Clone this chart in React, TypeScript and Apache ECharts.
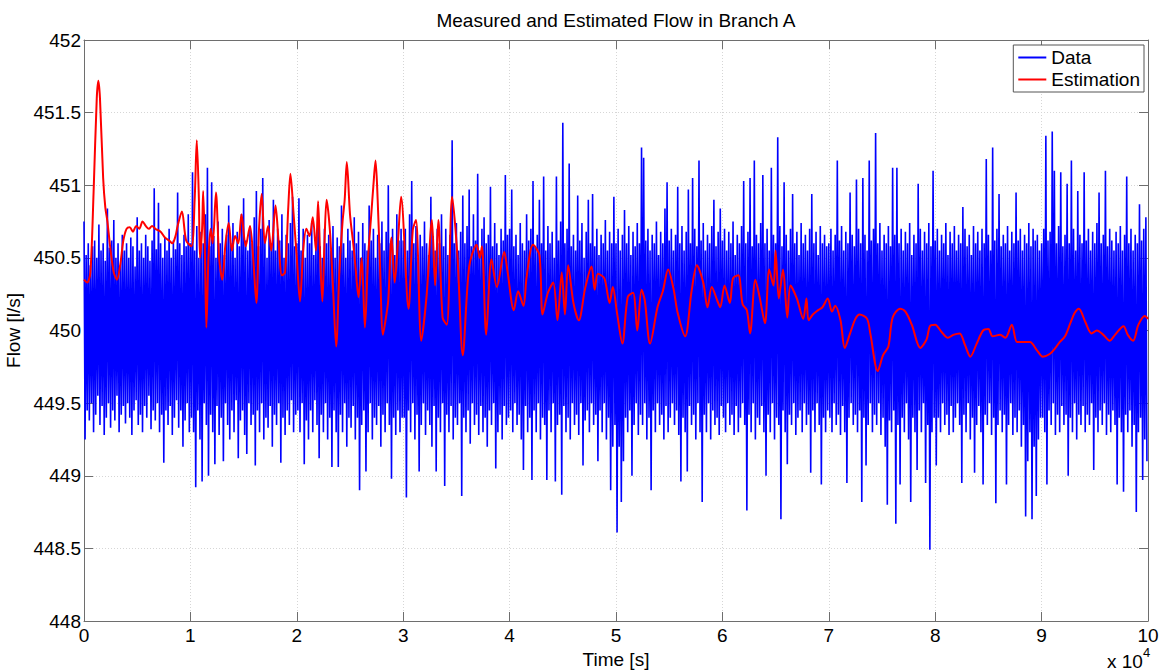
import React, { useEffect, useRef } from "react";
import * as echarts from "echarts";

const FONT = "'Liberation Sans', Arial, Helvetica, sans-serif";

// Measured flow: alternating upper / lower samples, one pair every dataStepSec seconds
const dataStepSec = 200;
const dataUpper = [
  // 0 - 1e4 s
  450.75, 450.52, 450.6, 450.45, 450.58, 450.62, 450.5, 450.73, 450.55, 450.6, 450.48, 450.84, 450.57, 450.62, 450.76, 450.5, 450.6, 450.45, 450.66, 450.55,
  450.6, 450.5, 450.64, 450.58, 450.44, 450.78, 450.55, 450.6, 450.5, 450.66, 450.58, 450.48, 450.62, 450.98, 450.56, 450.88, 450.6, 450.5, 450.64, 450.55,
  450.7, 450.5, 450.62, 450.56, 450.95, 450.6, 450.52, 450.66, 450.58, 450.8,
  // 1e4 - 2e4 s
  450.6, 451.09, 450.55, 450.72, 450.5, 450.68, 450.6, 450.8, 451.12, 450.58, 451.02, 450.65, 450.5, 450.75, 450.6, 450.7, 450.52, 450.66, 450.86, 450.6,
  450.74, 450.5, 450.68, 450.58, 450.8, 450.91, 450.62, 450.55, 450.72, 450.6, 450.78, 450.96, 450.58, 450.7, 451.05, 450.62, 450.5, 450.76, 450.6, 450.9,
  450.55, 450.7, 450.62, 450.8, 450.5, 450.66, 450.6, 450.74, 450.92, 450.58,
  // 2e4 - 3e4 s
  450.6, 450.91, 450.55, 450.7, 450.5, 450.66, 450.6, 450.74, 450.52, 450.62, 450.8, 450.58, 450.5, 450.7, 450.6, 450.66, 450.55, 450.72, 450.5, 450.64,
  450.58, 450.86, 450.6, 450.5, 450.7, 450.62, 450.55, 450.78, 450.6, 450.68, 450.5, 450.74, 450.6, 450.55, 450.86, 450.62, 450.7, 450.5, 450.66, 450.6,
  450.75, 450.55, 450.68, 451.0, 450.6, 450.7, 450.52, 450.8, 450.62, 450.7,
  // 3e4 - 4e4 s
  450.62, 450.7, 450.55, 450.8, 451.03, 450.6, 450.72, 450.5, 450.66, 450.58, 450.75, 450.6, 450.52, 450.92, 450.65, 450.55, 450.7, 450.6, 450.8, 450.58,
  450.7, 450.52, 450.66, 451.31, 450.6, 450.74, 450.55, 450.68, 450.93, 450.6, 450.72, 450.97, 450.58, 450.8, 450.62, 451.08, 450.55, 450.7, 450.78, 450.6,
  450.66, 450.99, 450.58, 450.74, 450.6, 450.52, 450.7, 450.62, 451.07, 450.66,
  // 4e4 - 5e4 s
  450.7, 450.97, 450.58, 450.66, 450.52, 450.74, 450.6, 450.55, 450.8, 450.62, 450.7, 451.03, 450.58, 450.66, 450.9, 450.6, 451.06, 450.55, 450.72, 450.6,
  450.68, 450.5, 451.06, 450.62, 450.75, 451.43, 450.6, 450.7, 451.15, 450.58, 450.66, 450.55, 450.93, 450.62, 450.74, 450.5, 450.68, 450.9, 450.6, 450.94,
  450.58, 450.7, 450.52, 450.66, 450.6, 450.76, 450.55, 450.68, 450.6, 450.92,
  // 5e4 - 6e4 s
  450.6, 450.7, 450.55, 450.66, 450.83, 450.6, 450.72, 450.52, 450.68, 450.58, 450.74, 450.6, 451.26, 451.19, 450.62, 450.7, 450.55, 450.66, 450.6, 450.75,
  450.52, 450.68, 450.6, 450.84, 451.02, 450.62, 450.7, 450.55, 450.66, 450.99, 450.6, 450.72, 450.55, 450.68, 450.97, 450.6, 451.05, 450.7, 450.58, 451.17,
  450.62, 450.74, 450.55, 450.66, 450.6, 450.72, 450.9, 450.58, 450.68, 450.84,
  // 6e4 - 7e4 s
  450.62, 450.7, 450.55, 450.68, 450.6, 450.75, 450.52, 450.66, 450.6, 450.72, 451.03, 450.6, 450.68, 451.05, 450.58, 451.17, 450.66, 450.6, 450.74, 451.07,
  450.6, 450.7, 450.55, 451.12, 450.66, 450.6, 451.33, 450.72, 450.58, 451.02, 450.66, 450.55, 450.7, 450.94, 450.6, 450.68, 450.52, 450.74, 450.6, 450.66,
  450.55, 450.7, 450.94, 450.6, 450.68, 450.52, 450.72, 450.6, 450.66, 450.58,
  // 7e4 - 8e4 s
  450.6, 450.7, 450.55, 450.66, 451.17, 450.62, 450.72, 450.55, 450.68, 450.6, 450.95, 450.66, 450.58, 451.04, 450.7, 450.6, 451.05, 450.66, 450.55, 451.17,
  450.62, 450.7, 451.36, 450.6, 450.74, 450.55, 450.66, 450.6, 450.72, 450.58, 451.12, 450.66, 451.12, 450.6, 450.7, 450.55, 450.68, 450.6, 450.74, 450.52,
  450.66, 450.6, 451.01, 450.7, 450.55, 450.68, 450.6, 450.74, 450.58, 451.1,
  // 8e4 - 9e4 s
  450.62, 450.7, 450.55, 450.66, 450.6, 450.74, 450.52, 450.68, 450.6, 450.72, 450.55, 450.66, 450.6, 450.85, 450.7, 450.58, 450.66, 450.52, 450.72, 450.6,
  450.68, 450.55, 450.7, 450.6, 451.18, 450.66, 450.55, 451.26, 450.62, 450.7, 450.94, 450.58, 450.66, 450.6, 450.72, 450.55, 450.68, 450.6, 450.95, 450.62,
  450.7, 450.55, 450.66, 450.6, 450.74, 450.58, 450.7, 450.62, 450.66, 450.55,
  // 9e4 - 10e4 s
  450.6, 450.7, 451.34, 450.62, 450.68, 451.37, 451.1, 450.6, 450.72, 451.09, 450.58, 450.66, 451.01, 450.6, 451.17, 450.7, 450.55, 450.96, 450.66, 450.6,
  451.09, 450.62, 450.7, 450.55, 450.68, 450.6, 450.74, 450.95, 450.6, 450.66, 451.1, 450.58, 450.7, 450.62, 450.55, 450.68, 450.6, 450.72, 450.55, 450.66,
  451.06, 450.6, 450.7, 450.55, 450.66, 450.6, 450.87, 450.62, 450.7, 450.78,
];
const dataLower = [
  // 0 - 1e4 s
  449.25, 449.45, 449.38, 449.5, 449.3, 449.42, 449.55, 449.35, 449.48, 449.28, 449.4, 449.5, 449.33, 449.45, 449.38, 449.55, 449.3, 449.42, 449.48, 449.36,
  449.5, 449.4, 449.28, 449.45, 449.52, 449.35, 449.42, 449.3, 449.48, 449.4, 449.55, 449.32, 449.45, 449.38, 449.5, 449.3, 449.42, 449.09, 449.45, 449.35,
  449.48, 449.28, 449.4, 449.52, 449.33, 449.45, 449.2, 449.38, 449.5, 449.3,
  // 1e4 - 2e4 s
  449.4, 449.3, 448.92, 449.45, 449.25, 448.96, 449.5, 449.35, 449.0, 449.42, 449.3, 449.08, 449.48, 449.28, 449.4, 449.1, 449.5, 449.35, 449.25, 449.45,
  449.3, 449.52, 449.12, 449.38, 449.45, 449.28, 449.15, 449.5, 449.35, 449.42, 449.07, 449.45, 449.3, 449.5, 449.25, 449.4, 449.33, 449.48, 449.2, 449.42,
  449.35, 449.5, 449.09, 449.4, 449.28, 449.45, 449.35, 449.52, 449.3, 449.42,
  // 2e4 - 3e4 s
  449.45, 449.3, 449.5, 449.08, 449.38, 449.25, 449.45, 449.3, 449.52, 449.35, 449.12, 449.42, 449.3, 449.5, 449.25, 449.4, 449.06, 449.45, 449.3, 449.06,
  449.42, 449.3, 449.5, 449.2, 449.4, 449.33, 449.48, 449.25, 449.4, 448.9, 449.35, 449.45, 449.03, 449.3, 449.5, 449.25, 449.4, 449.35, 449.48, 449.2,
  449.42, 449.3, 449.5, 449.35, 448.98, 449.4, 449.28, 449.45, 449.3, 449.4,
  // 3e4 - 4e4 s
  449.4, 448.85, 449.45, 449.3, 449.5, 449.25, 449.42, 449.03, 449.35, 449.5, 449.28, 449.45, 449.35, 449.2, 449.48, 449.03, 449.4, 449.3, 449.5, 448.93,
  449.42, 449.3, 449.48, 449.25, 449.4, 449.35, 449.5, 448.86, 449.4, 449.3, 449.45, 449.22, 449.5, 449.35, 449.42, 449.28, 449.48, 449.3, 449.4, 449.2,
  449.45, 449.35, 449.5, 449.05, 449.3, 449.42, 449.25, 449.48, 449.35, 449.4,
  // 4e4 - 5e4 s
  449.45, 449.3, 449.5, 449.35, 449.42, 449.25, 449.04, 449.48, 449.3, 449.4, 448.97, 449.45, 449.3, 449.5, 449.25, 449.4, 449.35, 448.97, 449.45, 449.3,
  449.5, 448.96, 449.35, 449.42, 448.87, 449.48, 449.3, 449.4, 449.25, 449.5, 449.35, 449.42, 449.28, 449.5, 449.07, 449.38, 449.45, 449.3, 449.5, 449.35,
  449.42, 449.1, 449.45, 449.3, 449.5, 449.25, 449.4, 448.9, 449.2, 449.35,
  // 5e4 - 6e4 s
  448.61, 449.2, 448.82, 449.1, 449.4, 449.3, 449.45, 449.0, 449.35, 449.5, 449.28, 449.42, 449.35, 449.5, 449.25, 449.4, 448.9, 449.45, 449.3, 449.5,
  449.35, 449.42, 449.25, 449.48, 449.3, 449.4, 449.5, 449.35, 449.45, 449.28, 448.96, 449.4, 449.3, 449.03, 449.48, 449.35, 449.42, 449.25, 449.5, 449.3,
  448.82, 449.42, 449.3, 449.5, 449.25, 449.45, 449.35, 449.4, 449.28, 449.48,
  // 6e4 - 7e4 s
  449.4, 449.3, 449.5, 449.35, 449.42, 449.28, 449.48, 449.3, 449.4, 449.5, 449.35, 448.76, 449.42, 449.3, 449.5, 449.25, 449.4, 449.35, 449.48, 449.3,
  449.0, 449.42, 449.3, 449.5, 449.25, 449.4, 449.35, 448.7, 449.45, 449.3, 449.08, 449.42, 449.35, 449.5, 449.28, 449.4, 449.45, 449.3, 449.5, 449.35,
  449.42, 449.02, 449.45, 449.3, 449.5, 449.35, 448.94, 449.4, 449.3, 449.45,
  // 7e4 - 8e4 s
  449.4, 449.3, 449.5, 449.35, 449.42, 449.28, 449.48, 449.3, 448.95, 449.4, 449.5, 449.35, 449.42, 449.3, 449.45, 448.82, 449.4, 449.07, 449.35, 449.5,
  449.3, 449.42, 449.35, 449.5, 449.28, 449.4, 449.2, 448.8, 449.38, 449.3, 449.45, 448.67, 449.35, 448.94, 449.4, 449.3, 449.5, 449.25, 448.82, 449.4,
  449.3, 449.04, 449.45, 449.3, 449.5, 448.95, 449.35, 448.49, 449.3, 449.4,
  // 8e4 - 9e4 s
  449.07, 449.4, 449.3, 449.5, 449.35, 449.42, 449.28, 449.48, 449.3, 449.4, 449.5, 449.35, 448.95, 449.42, 449.3, 449.5, 449.25, 449.4, 449.02, 449.35,
  449.48, 449.3, 448.94, 449.42, 449.35, 449.5, 449.28, 449.4, 448.81, 449.35, 449.45, 449.3, 449.42, 448.94, 449.35, 449.5, 449.28, 449.4, 449.3, 449.45,
  449.2, 449.35, 448.72, 449.1, 449.3, 448.7, 449.2, 448.86, 449.25, 449.4,
  // 9e4 - 10e4 s
  449.4, 449.3, 448.94, 449.45, 449.35, 449.5, 449.28, 449.42, 449.3, 449.48, 449.35, 449.42, 449.0, 449.4, 449.3, 449.5, 449.25, 449.42, 449.35, 449.48,
  449.3, 449.42, 449.35, 449.5, 449.04, 449.4, 449.3, 449.45, 449.35, 449.5, 449.28, 449.42, 449.3, 449.45, 449.35, 448.94, 449.4, 449.3, 448.89, 449.42,
  449.3, 449.45, 449.2, 449.35, 448.75, 449.3, 449.4, 448.97, 449.25, 449.1,
];

// Estimated flow
const estTimeSec = [
  0, 300, 600, 900, 1200, 1350, 1500, 1800, 2000, 2200, 2500, 2800, 3100, 3400, 3700, 4000, 4300, 4600, 4900, 5200,
  5500, 5800, 6100, 6400, 6700, 7200, 7600, 8000, 8300, 8600, 8800, 9200, 9600, 10100, 10400, 10600, 10800, 10900, 11100, 11200,
  11350, 11500, 11700, 11900, 12100, 12400, 12700, 13000, 13300, 13600, 13900, 14200, 14500, 14800, 15200, 15600, 15900, 16200, 16450, 16700,
  17000, 17300, 17600, 18000, 18300, 18600, 18900, 19200, 19400, 19700, 20000, 20300, 20600, 20900, 21200, 21500, 21800, 22000, 22200, 22400,
  22600, 22800, 23100, 23400, 23700, 24000, 24300, 24500, 24700, 25000, 25300, 25500, 25800, 26100, 26400, 26700, 27000, 27200, 27400, 27600,
  27800, 28100, 28400, 28600, 28900, 29200, 29500, 29800, 30500, 30900, 31200, 31700, 32200, 32700, 33000, 33300, 33700, 34100, 34600, 35100,
  35600, 36200, 36900, 37200, 37400, 37800, 38300, 38800, 39500, 39800, 40400, 40800, 41300, 41600, 42200, 42800, 43100, 43600, 44100, 44500,
  44900, 45200, 45500, 46000, 46500, 47100, 47700, 48000, 48300, 48900, 49400, 49700, 50100, 50600, 51100, 51600, 52000, 52400, 52700, 53200,
  53900, 54400, 54900, 55400, 55800, 56500, 57100, 57600, 58200, 58600, 59000, 59500, 59800, 60200, 60700, 61000, 61500, 61900, 62300, 62600,
  63100, 63500, 64000, 64400, 64800, 65000, 65300, 65700, 66100, 66400, 67000, 67600, 67900, 68100, 68500, 69000, 69400, 69900, 70300, 70600,
  71100, 71500, 72000, 72500, 72900, 73600, 73900, 74600, 75100, 75600, 76000, 76700, 77200, 77800, 78600, 79200, 79500, 80000, 80600, 81200,
  81700, 82300, 82800, 83300, 83900, 84500, 85000, 85400, 86100, 86600, 87200, 87700, 88300, 88900, 89600, 90100, 90800, 91300, 91700, 92200,
  92700, 93100, 93500, 94100, 94700, 95200, 95800, 96400, 96900, 97700, 98100, 98600, 99100, 99700, 100000,
];
const estValue = [
  450.35, 450.33, 450.4, 450.95, 451.6, 451.72, 451.6, 451.05, 450.85, 450.75, 450.55, 450.4, 450.35, 450.45, 450.62, 450.7, 450.71, 450.68, 450.72, 450.7,
  450.75, 450.72, 450.7, 450.72, 450.7, 450.68, 450.64, 450.62, 450.6, 450.65, 450.72, 450.82, 450.62, 450.58, 450.9, 451.31, 450.9, 450.5, 450.7, 450.96,
  450.6, 450.02, 450.5, 450.7, 450.6, 450.95, 450.5, 450.35, 450.6, 450.74, 450.55, 450.65, 450.6, 450.8, 450.58, 450.72, 450.5, 450.19, 450.7, 450.94,
  450.6, 450.72, 450.55, 450.86, 450.6, 450.38, 450.4, 450.85, 451.08, 450.8, 450.5, 450.2, 450.55, 450.7, 450.65, 450.78, 450.55, 450.89, 450.5, 450.2,
  450.6, 450.9, 450.7, 450.3, 449.89, 450.4, 450.75, 450.9, 451.16, 450.8, 450.6, 450.45, 450.23, 450.5, 450.02, 450.5, 450.8, 451.0, 451.17, 450.9,
  450.5, 449.97, 450.1, 450.21, 450.64, 450.33, 450.6, 450.92, 450.15, 450.69, 450.76, 449.93, 450.24, 450.76, 450.31, 450.76, 450.09, 450.04, 450.92, 450.51,
  449.83, 450.44, 450.59, 450.5, 450.58, 449.97, 450.49, 450.3, 450.54, 450.41, 450.14, 450.27, 450.17, 450.37, 450.59, 450.52, 450.11, 450.26, 450.33, 450.07,
  450.4, 450.11, 450.45, 450.19, 450.07, 450.29, 450.44, 450.28, 450.39, 450.36, 450.19, 450.3, 450.12, 449.91, 450.23, 450.26, 450.0, 450.28, 450.21, 449.91,
  450.16, 450.27, 450.42, 450.29, 450.12, 449.96, 450.27, 450.45, 450.33, 450.16, 450.3, 450.21, 450.16, 450.31, 450.19, 450.36, 450.38, 450.18, 450.14, 449.98,
  450.35, 450.23, 450.05, 450.42, 450.31, 450.55, 450.22, 450.42, 450.09, 450.31, 450.22, 450.08, 450.22, 450.07, 450.11, 450.14, 450.16, 450.22, 450.13, 450.17,
  450.07, 449.88, 449.98, 450.08, 450.11, 450.08, 449.98, 449.72, 449.83, 449.89, 450.09, 450.15, 450.13, 450.04, 449.88, 449.94, 450.03, 450.04, 449.99, 449.95,
  449.97, 449.98, 449.9, 449.82, 449.91, 450.0, 450.01, 449.96, 449.97, 449.95, 450.04, 449.92, 449.92, 449.92, 449.86, 449.82, 449.84, 449.88, 449.92, 449.96,
  450.05, 450.12, 450.15, 450.06, 449.98, 450.0, 449.97, 449.93, 449.97, 450.03, 449.97, 449.93, 450.04, 450.1, 450.08,
];

const xMin = 0;
const xMax = 100000;
const xInterval = 10000;
const yMin = 448;
const yMax = 452;
const yInterval = 0.5;

const titleText = "Measured and Estimated Flow in Branch A";
const xName = "Time [s]";
const yName = "Flow [l/s]";
const seriesNames = ["Data", "Estimation"];

export default function App() {
  const ref = useRef<HTMLDivElement>(null);
  useEffect(() => {
    if (!ref.current) return;
    const chart = echarts.init(ref.current, undefined, { renderer: "svg" });

    const dataPoints: number[][] = [];
    for (let i = 0; i < dataUpper.length; i++) {
      dataPoints.push([i * dataStepSec, dataUpper[i]]);
      dataPoints.push([i * dataStepSec + dataStepSec / 2, dataLower[i]]);
    }
    const estPoints = estTimeSec.map((t, i) => [t, estValue[i]]);

    const axisColor = "#6e6e6e";
    const gridLine = { show: true, lineStyle: { color: "#d6d6d6", type: [1, 2] as any, width: 1 } };
    const labelStyle = { color: "#000", fontFamily: FONT, fontSize: 19 };

    chart.setOption({
      animation: false,
      backgroundColor: "#fff",
      grid: { left: 84, right: 22, top: 40, bottom: 51, containLabel: false, outerBoundsMode: "none" },
      graphic: [
        {
          type: "text",
          x: 616,
          y: 20,
          style: { text: titleText, fill: "#000", font: `19px ${FONT}`, textAlign: "center", textVerticalAlign: "middle" },
        },
        {
          type: "text",
          x: 1107,
          y: 661,
          style: { text: "x 10", fill: "#000", font: `19px ${FONT}`, textAlign: "left", textVerticalAlign: "middle" },
        },
        {
          type: "text",
          x: 1143,
          y: 652,
          style: { text: "4", fill: "#000", font: `13px ${FONT}`, textAlign: "left", textVerticalAlign: "middle" },
        },
      ],
      legend: {
        data: seriesNames,
        orient: "vertical",
        right: 26,
        top: 45,
        backgroundColor: "#fff",
        borderColor: "#555",
        borderWidth: 1,
        borderRadius: 0,
        padding: [3, 4, 3, 5],
        itemGap: 3,
        itemWidth: 28,
        itemHeight: 2,
        icon: "rect",
        textStyle: { color: "#000", fontFamily: FONT, fontSize: 19 },
      },
      xAxis: [
        {
          type: "value",
          min: xMin,
          max: xMax,
          interval: xInterval,
          name: xName,
          nameLocation: "middle",
          nameGap: 22,
          nameTextStyle: labelStyle,
          axisLine: { show: true, onZero: false, lineStyle: { color: axisColor, width: 1 } },
          axisTick: { show: true, inside: true, length: 9, lineStyle: { color: axisColor } },
          axisLabel: { ...labelStyle, margin: 5, formatter: (v: number) => String(v / 10000) },
          splitLine: gridLine,
        },
        {
          type: "value",
          position: "top",
          min: xMin,
          max: xMax,
          interval: xInterval,
          axisLine: { show: true, onZero: false, lineStyle: { color: axisColor, width: 1 } },
          axisTick: { show: true, inside: true, length: 9, lineStyle: { color: axisColor } },
          axisLabel: { show: false },
          splitLine: { show: false },
        },
      ],
      yAxis: [
        {
          type: "value",
          min: yMin,
          max: yMax,
          interval: yInterval,
          name: yName,
          nameLocation: "middle",
          nameGap: 55,
          nameRotate: 90,
          nameTextStyle: labelStyle,
          axisLine: { show: true, onZero: false, lineStyle: { color: axisColor, width: 1 } },
          axisTick: { show: true, inside: true, length: 9, lineStyle: { color: axisColor } },
          axisLabel: { ...labelStyle, margin: 3 },
          splitLine: gridLine,
        },
        {
          type: "value",
          position: "right",
          min: yMin,
          max: yMax,
          interval: yInterval,
          axisLine: { show: true, onZero: false, lineStyle: { color: axisColor, width: 1 } },
          axisTick: { show: true, inside: true, length: 9, lineStyle: { color: axisColor } },
          axisLabel: { show: false },
          splitLine: { show: false },
        },
      ],
      series: [
        {
          name: seriesNames[0],
          type: "line",
          data: dataPoints,
          showSymbol: false,
          symbol: "none",
          lineStyle: { color: "#0000ff", width: 1.6 },
          itemStyle: { color: "#0000ff" },
          emphasis: { disabled: true },
          z: 2,
        },
        {
          name: seriesNames[1],
          type: "line",
          data: estPoints,
          showSymbol: false,
          symbol: "none",
          smooth: 0.3,
          lineStyle: { color: "#ff0000", width: 2 },
          itemStyle: { color: "#ff0000" },
          emphasis: { disabled: true },
          z: 3,
        },
      ],
    });
    return () => chart.dispose();
  }, []);
  return (
    <div
      ref={ref}
      style={{ position: "fixed", left: 0, top: 0, width: 1170, height: 672, background: "#fff" }}
    />
  );
}
